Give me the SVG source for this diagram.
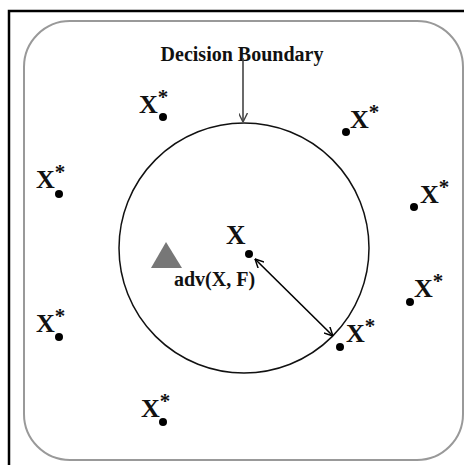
<svg xmlns="http://www.w3.org/2000/svg" width="464" height="465" viewBox="0 0 464 465">
<style>
.lbl{font-family:"Liberation Serif","Times New Roman",serif;font-size:26px;fill:#111}
.st{font-size:21px}
.b{font-weight:bold}
.dot{fill:#000}
</style>
<defs>
<marker id="ah" viewBox="0 0 10 10" refX="10" refY="5" markerWidth="9" markerHeight="9" markerUnits="userSpaceOnUse" orient="auto-start-reverse">
<path d="M0,0 L10,5 L0,10" fill="none" stroke="#000" stroke-width="1.6"/>
</marker>
<marker id="ahg" viewBox="0 0 10 10" refX="10" refY="5" markerWidth="9" markerHeight="9" markerUnits="userSpaceOnUse" orient="auto">
<path d="M0,0 L10,5 L0,10" fill="none" stroke="#444" stroke-width="1.6"/>
</marker>
</defs>
<rect width="464" height="465" fill="#fff"/>
<path d="M9,470 L9,11 L470,11" fill="none" stroke="#000" stroke-width="2.5"/>
<rect x="24" y="21" width="439" height="439" rx="46" ry="46" fill="none" stroke="#999" stroke-width="2"/>
<g id="boundary">
<circle cx="244" cy="248" r="125" fill="none" stroke="#111" stroke-width="1.5"/>
</g>
<g id="label-decision">
<text class="lbl b" x="242" y="61" text-anchor="middle" style="font-size:20px">Decision Boundary</text>
</g>
<g id="x-center">
<text class="lbl b" x="226" y="244" style="font-size:27px">X</text>
<circle class="dot" cx="249" cy="254" r="4"/>
</g>
<g id="adv">
<polygon points="166,242 151,268 182,268" fill="#777"/>
<text class="lbl b" x="174" y="286" style="font-size:20px">adv(X, F)</text>
</g>
<g id="xs1"><text class="lbl b" x="139" y="113">X<tspan class="st" dy="-9">*</tspan></text><circle class="dot" cx="163" cy="117" r="4"/></g>
<g id="xs2"><text class="lbl b" x="350" y="128">X<tspan class="st" dy="-9">*</tspan></text><circle class="dot" cx="346" cy="132" r="4"/></g>
<g id="xs3"><text class="lbl b" x="36" y="188">X<tspan class="st" dy="-9">*</tspan></text><circle class="dot" cx="59" cy="194" r="4"/></g>
<g id="xs4"><text class="lbl b" x="420" y="203">X<tspan class="st" dy="-9">*</tspan></text><circle class="dot" cx="414" cy="207" r="4"/></g>
<g id="xs5"><text class="lbl b" x="414" y="297">X<tspan class="st" dy="-9">*</tspan></text><circle class="dot" cx="410" cy="302" r="4"/></g>
<g id="xs6"><text class="lbl b" x="36" y="332">X<tspan class="st" dy="-9">*</tspan></text><circle class="dot" cx="59" cy="337" r="4"/></g>
<g id="xs7"><text class="lbl b" x="141" y="417">X<tspan class="st" dy="-9">*</tspan></text><circle class="dot" cx="163" cy="422" r="4"/></g>
<g id="xs8"><text class="lbl b" x="346" y="342">X<tspan class="st" dy="-9">*</tspan></text><circle class="dot" cx="340" cy="347" r="4"/></g>
<g id="connectors">
<line x1="243" y1="58" x2="243" y2="122" stroke="#444" stroke-width="1.6" marker-end="url(#ahg)"/>
<line x1="255" y1="259" x2="333" y2="336" stroke="#000" stroke-width="1.6" marker-start="url(#ah)" marker-end="url(#ah)"/>
</g>
</svg>
